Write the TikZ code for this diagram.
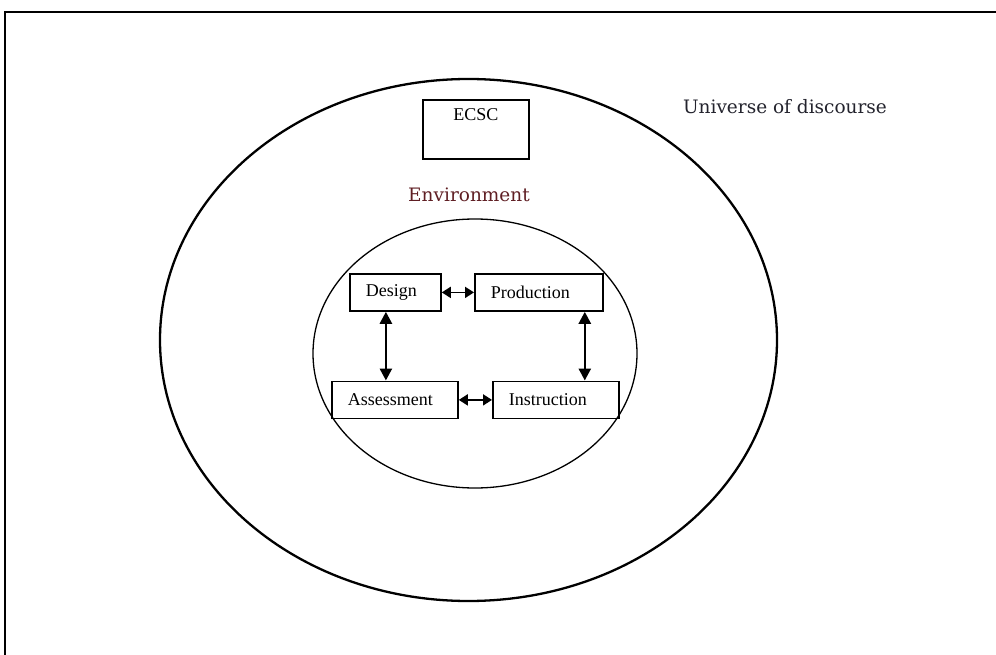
\documentclass[tikz,border=0pt]{standalone}
\usepackage{fontspec}
\setmainfont{Liberation Serif}
\newfontfamily\labelserif{DejaVu Serif}
\usetikzlibrary{shapes.geometric,arrows.meta}
\definecolor{envred}{RGB}{95,30,35}
\definecolor{inkgray}{RGB}{35,35,45}
\begin{document}
\begin{tikzpicture}[x=1pt,y=-1pt,
  stagebox/.style={draw, line width=1.8pt, rectangle, minimum height=37pt,
    inner xsep=16pt, inner ysep=0pt, align=left, anchor=north west,
    font=\fontsize{18}{20}\selectfont},
  ring/.style={draw, ellipse, inner sep=0pt},
  biarrow/.style={line width=2.6pt,
    {Triangle[length=12pt,width=12pt]}-{Triangle[length=12pt,width=12pt]}},
  sidearrow/.style={line width=1.8pt,
    {Triangle[length=9pt,width=11pt]}-{Triangle[length=9pt,width=11pt]}},
  bigtext/.style={font=\labelserif\fontsize{18.5}{22}\selectfont, anchor=base},
]
\useasboundingbox (0,0) rectangle (996,655);

% page frame
\draw[line width=2.2pt] (5,655) -- (5,12) -- (996,12);

% nested regions
\node[ring, line width=2.3pt, minimum width=617pt, minimum height=522pt] (universe) at (468.5,340) {};
\node[ring, line width=1.3pt, minimum width=324pt, minimum height=269pt] (environment) at (475,353.5) {};

% labels
\node[bigtext, text=inkgray] (unilabel) at (785,114) {Universe of discourse};
\node[bigtext, text=envred] (envlabel) at (469,202) {Environment};

% ECSC box
\node[draw, line width=1.6pt, minimum width=106pt, minimum height=59pt, inner sep=0pt,
  anchor=north west,
  label={[anchor=north, inner sep=0pt, yshift=-9pt, font=\fontsize{18}{20}\selectfont]north:ECSC}]
  (ecsc) at (422,99) {};

% process stages
\node[stagebox, text width=59pt] (design) at (349,273) {Design};
\node[stagebox, text width=96pt] (production) at (474,273) {Production};
\node[stagebox, text width=94pt] (assessment) at (331,380.5) {Assessment};
\node[stagebox, text width=94pt] (instruction) at (492,380.5) {Instruction};

% connectors
\draw[sidearrow] (design.east) -- (production.west);
\draw[sidearrow] (assessment.east) -- (instruction.west);
\draw[biarrow] ([xshift=-9.5pt]design.south) -- ([xshift=-9.5pt]design.south |- assessment.north);
\draw[biarrow] ([xshift=-19pt]production.south east) -- ([xshift=-19pt]production.south east |- instruction.north);
\end{tikzpicture}
\end{document}
